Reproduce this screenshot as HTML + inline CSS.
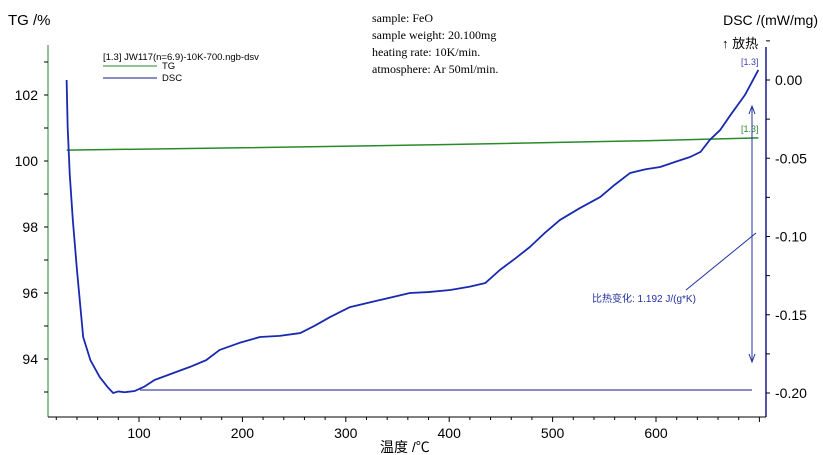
<!DOCTYPE html>
<html><head><meta charset="utf-8"><style>
html,body{margin:0;padding:0;background:#fff;}
svg{display:block;font-family:"Liberation Sans","Noto Sans CJK SC",sans-serif;}
</style></head><body>
<svg id="chart" width="823" height="455" viewBox="0 0 823 455">
<g id="axes"></g>
<g id="series"></g>
<text x="8" y="25" font-size="15">TG /%</text>
<text x="818" y="25" font-size="14" text-anchor="end">DSC /(mW/mg)</text>
<text x="722" y="48" font-size="13">↑ 放热</text>
<g font-family="'Liberation Serif',serif" font-size="12">
<text x="372" y="22">sample: FeO</text>
<text x="372" y="39">sample weight: 20.100mg</text>
<text x="372" y="56">heating rate: 10K/min.</text>
<text x="372" y="73">atmosphere: Ar 50ml/min.</text>
</g>
<g font-size="9.5">
<text x="103" y="60">[1.3] JW117(n=6.9)-10K-700.ngb-dsv</text>
<line x1="103" y1="66" x2="157" y2="66" stroke="#2a8a2a"/>
<text x="162" y="69">TG</text>
<line x1="103" y1="78" x2="157" y2="78" stroke="#1a1a8a"/>
<text x="162" y="81">DSC</text>
</g>
<text x="380" y="452" font-size="14">温度 /℃</text>
<text x="741" y="65" font-size="9" fill="#4040b0">[1.3]</text>
<text x="741" y="132" font-size="9" fill="#2a8a2a">[1.3]</text>
<g stroke="#2030a0" fill="none">
<line x1="140" y1="390" x2="752" y2="390" stroke="#1a1a8a"/>
<line x1="752" y1="106" x2="752" y2="362"/>
<path d="M749,114 L752,106 L755,114 M749,354 L752,362 L755,354"/>
<line x1="756" y1="233" x2="686" y2="290"/>
</g>
<text x="592" y="302" font-size="10" fill="#2030a0">比热变化: 1.192 J/(g*K)</text>
</svg>
<script>
const temps=[30,31,33,36,40,46,53,62,70,75,80,86,96,105,115,130,149,165,178,197,217,236,256,270,285,304,333,362,380,401,420,435,449,464,478,492,507,526,546,560,575,590,604,620,633,643,652,662,672,686,699];
const dscVals=[0.0,-0.03,-0.06,-0.0895,-0.1214,-0.1642,-0.179,-0.1898,-0.1965,-0.2,-0.199,-0.1995,-0.1987,-0.196,-0.1917,-0.188,-0.1834,-0.179,-0.1725,-0.168,-0.1642,-0.1635,-0.1617,-0.157,-0.1514,-0.1451,-0.1406,-0.1361,-0.1355,-0.1342,-0.132,-0.1297,-0.1214,-0.114,-0.1067,-0.098,-0.0895,-0.082,-0.0748,-0.067,-0.0594,-0.057,-0.0556,-0.052,-0.0492,-0.046,-0.0383,-0.032,-0.0224,-0.0096,0.0064];
const tgTemps=[30,200,400,600,699];
const tgVals=[100.33,100.40,100.50,100.62,100.70];
const xTicks=[100,200,300,400,500,600];
const tgTicks=[94,96,98,100,102];
const dscTicks=[0.00,-0.05,-0.10,-0.15,-0.20];
const X=t=>139+(t-100)*1.034;
const YL=v=>161-(v-100)*33;
const YR=v=>80-v/0.05*78.25;
const NS="http://www.w3.org/2000/svg";
function mk(tag,attrs,parent){const e=document.createElementNS(NS,tag);for(const k in attrs)e.setAttribute(k,attrs[k]);parent.appendChild(e);return e;}
const ax=document.getElementById('axes'),se=document.getElementById('series');
let e;
e=mk('line',{x1:48,y1:45,x2:48,y2:417,stroke:'#2a8a2a'},ax);


e=mk('line',{x1:766,y1:47,x2:766,y2:417,stroke:'#1a1a8a','stroke-width':1.5},ax);


e=mk('line',{x1:48,y1:417,x2:766,y2:417,stroke:'#000'},ax);


for(let t=20;t<=700;t+=20){mk('line',{x1:X(t),y1:417,x2:X(t),y2:t%100===0?422:420,stroke:'#000'},ax);}
xTicks.forEach(t=>{e=mk('text',{x:X(t),y:438,'font-size':14,'text-anchor':'middle'},ax);e.textContent=t;

});
for(let v=93;v<=103;v++){mk('line',{x1:44,y1:YL(v),x2:48,y2:YL(v),stroke:'#000'},ax);}
tgTicks.forEach(v=>{e=mk('text',{x:38,y:YL(v)+5,'font-size':14,'text-anchor':'end'},ax);e.textContent=v;

});
for(let v=0.025;v>=-0.215;v-=0.025){mk('line',{x1:766,y1:YR(v),x2:770,y2:YR(v),stroke:'#000'},ax);}
dscTicks.forEach(v=>{e=mk('text',{x:775,y:YR(v)+5,'font-size':14},ax);e.textContent=(v<0?'-':'')+Math.abs(v).toFixed(2);

});
e=mk('polyline',{points:tgTemps.map((t,i)=>X(t)+','+YL(tgVals[i])).join(' '),fill:'none',stroke:'#2a8a2a','stroke-width':1.5},se);


e=mk('polyline',{points:temps.map((t,i)=>X(t)+','+YR(dscVals[i])).join(' '),fill:'none',stroke:'#1a2ab0','stroke-width':1.8,'stroke-linejoin':'round'},se);


</script>
</body></html>
